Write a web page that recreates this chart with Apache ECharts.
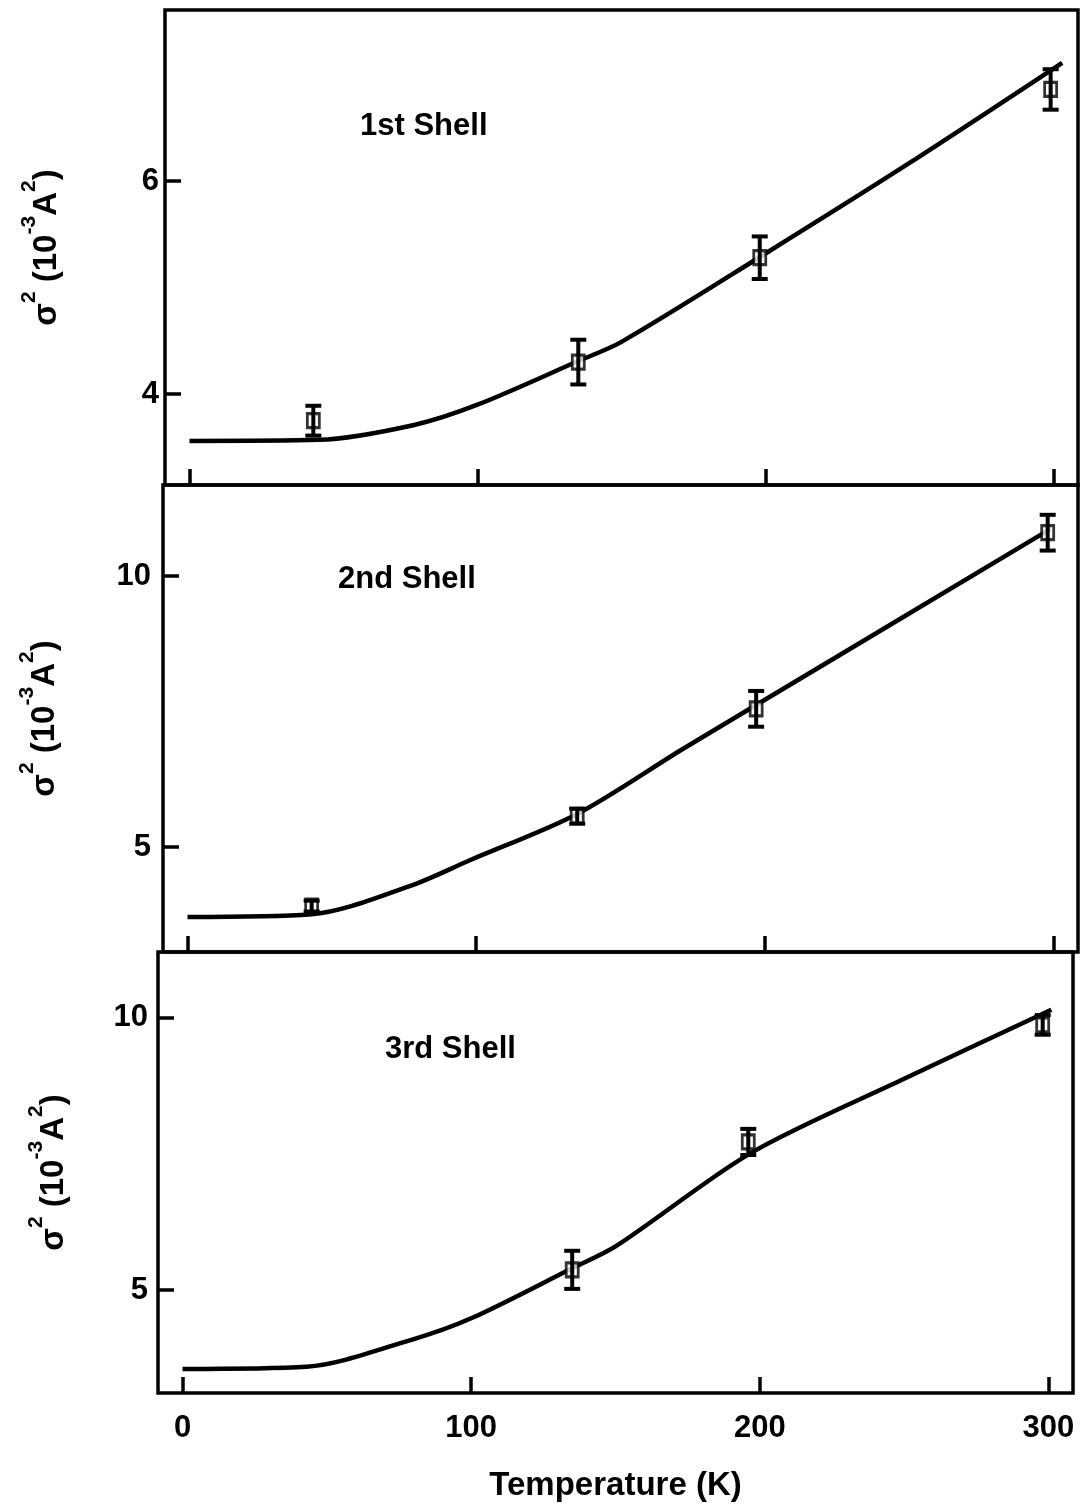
<!DOCTYPE html>
<html>
<head>
<meta charset="utf-8">
<script src="https://cdn.jsdelivr.net/npm/echarts@6/dist/echarts.min.js"></script>
<style>
  html, body { margin: 0; padding: 0; background: #fff; }
  #chart { width: 1082px; height: 1509px; }
</style>
</head>
<body>
<div id="chart"></div>
<script>
// shared temperature ticks (K)
const tempTicks = [0, 100, 200, 300];

// 1st shell
const shell1Temps = [43, 135, 198, 299];
const shell1Vals = [3.75, 4.30, 5.28, 6.86];
const shell1Errs = [0.14, 0.21, 0.20, 0.19];
const shell1CurveT = [0, 45, 78, 100, 135, 150, 200, 250, 303];
const shell1CurveV = [3.56, 3.57, 3.71, 3.90, 4.31, 4.49, 5.32, 6.17, 7.11];
const shell1Ticks = [4, 6];

// 2nd shell
const shell2Temps = [43, 135, 197, 298];
const shell2Vals = [3.91, 5.57, 7.55, 10.80];
const shell2Errs = [0.10, 0.14, 0.33, 0.33];
const shell2CurveT = [0, 43, 77, 98, 135, 171, 197, 299];
const shell2CurveV = [3.71, 3.76, 4.28, 4.76, 5.61, 6.79, 7.62, 10.87];
const shell2Ticks = [5, 10];

// 3rd shell
const shell3Temps = [135, 196, 298];
const shell3Vals = [5.37, 7.72, 9.87];
const shell3Errs = [0.35, 0.24, 0.18];
const shell3CurveT = [0, 43, 79, 100, 135, 150, 197, 250, 301];
const shell3CurveV = [3.55, 3.59, 4.08, 4.48, 5.40, 5.80, 7.52, 8.88, 10.15];
const shell3Ticks = [5, 10];

const shellNames = ['1st Shell', '2nd Shell', '3rd Shell'];

const FONT = '"Liberation Sans", Arial, Helvetica, sans-serif';

const grids = [
  { left: 165, top: 10, width: 913, height: 475 },
  { left: 163, top: 485, width: 915, height: 467 },
  { left: 158, top: 952, width: 915, height: 441 }
];
const yRanges = [
  [3.146, 7.606],
  [3.063, 11.68],
  [3.107, 11.21]
];
const yTicks = [shell1Ticks, shell2Ticks, shell3Ticks];

function zip(a, b, c) {
  return a.map((v, i) => (c ? [v, b[i], c[i]] : [v, b[i]]));
}

const yName = '{s|σ}{u|2}{s| (10}{u|-3}{s|A}{u|2}{s|)}';

function renderErr(params, api) {
  const x = api.value(0);
  const y = api.value(1);
  const e = api.value(2);
  const hi = api.coord([x, y + e]);
  const lo = api.coord([x, y - e]);
  const cap = 8;
  const style = { stroke: '#000', lineWidth: 4 };
  return {
    type: 'group',
    children: [
      { type: 'line', shape: { x1: hi[0], y1: hi[1], x2: lo[0], y2: lo[1] }, style },
      { type: 'line', shape: { x1: hi[0] - cap, y1: hi[1], x2: hi[0] + cap, y2: hi[1] }, style },
      { type: 'line', shape: { x1: lo[0] - cap, y1: lo[1], x2: lo[0] + cap, y2: lo[1] }, style }
    ]
  };
}

const pts = [
  zip(shell1Temps, shell1Vals, shell1Errs),
  zip(shell2Temps, shell2Vals, shell2Errs),
  zip(shell3Temps, shell3Vals, shell3Errs)
];
const curves = [
  zip(shell1CurveT, shell1CurveV),
  zip(shell2CurveT, shell2CurveV),
  zip(shell3CurveT, shell3CurveV)
];

const option = {
  backgroundColor: '#fff',
  animation: false,
  textStyle: { fontFamily: FONT, color: '#000' },
  grid: grids.map(g => Object.assign({
    show: true,
    borderColor: '#000',
    borderWidth: 3.5,
    backgroundColor: 'transparent',
    outerBoundsMode: 'none'
  }, g)),
  title: [
    { text: shellNames[0], left: 360, top: 111 },
    { text: shellNames[1], left: 338, top: 564 },
    { text: shellNames[2], left: 385, top: 1034 }
  ].map(t => Object.assign({
    textStyle: { fontFamily: FONT, fontSize: 31, fontWeight: 'bold', color: '#000' },
    padding: 0
  }, t)),
  xAxis: [0, 1, 2].map(i => ({
    type: 'value',
    gridIndex: i,
    min: -8.5,
    max: 308.5,
    axisLine: { show: false, onZero: false },
    splitLine: { show: false },
    axisTick: {
      show: true,
      inside: true,
      length: 16,
      customValues: tempTicks,
      lineStyle: { color: '#000', width: 3.5 }
    },
    axisLabel: {
      show: i === 2,
      customValues: tempTicks,
      margin: 20,
      fontFamily: FONT,
      fontSize: 31,
      fontWeight: 'bold',
      color: '#000'
    },
    name: i === 2 ? 'Temperature (K)' : '',
    nameLocation: 'middle',
    nameGap: 76,
    nameTextStyle: { fontFamily: FONT, fontSize: 33, fontWeight: 'bold', color: '#000' }
  })),
  yAxis: [0, 1, 2].map(i => ({
    type: 'value',
    gridIndex: i,
    min: yRanges[i][0],
    max: yRanges[i][1],
    axisLine: { show: false, onZero: false },
    splitLine: { show: false },
    axisTick: {
      show: true,
      inside: true,
      length: 16,
      customValues: yTicks[i],
      lineStyle: { color: '#000', width: 3.5 }
    },
    axisLabel: {
      customValues: yTicks[i],
      margin: [6, 12, 10][i],
      fontFamily: FONT,
      fontSize: 31,
      fontWeight: 'bold',
      color: '#000'
    },
    name: yName,
    nameLocation: 'middle',
    nameGap: [102, 102, 88][i],
    nameRotate: 90,
    nameTextStyle: {
      fontFamily: FONT,
      fontSize: 33,
      fontWeight: 'bold',
      color: '#000',
      rich: {
        s: { fontFamily: FONT, fontSize: 33, fontWeight: 'bold', lineHeight: 44, verticalAlign: 'bottom', color: '#000' },
        u: { fontFamily: FONT, fontSize: 21, fontWeight: 'bold', lineHeight: 44, verticalAlign: 'top', color: '#000' }
      }
    }
  })),
  series: [].concat(
    [0, 1, 2].map(i => ({
      type: 'line',
      xAxisIndex: i,
      yAxisIndex: i,
      data: curves[i],
      showSymbol: false,
      smooth: 0.3,
      lineStyle: { color: '#000', width: 4.5 },
      z: 2
    })),
    [0, 1, 2].map(i => ({
      type: 'scatter',
      xAxisIndex: i,
      yAxisIndex: i,
      data: pts[i].map(p => [p[0], p[1]]),
      symbol: 'rect',
      symbolSize: [12, 14],
      itemStyle: { color: '#fff', borderColor: '#000', borderWidth: 3 },
      z: 3
    })),
    [0, 1, 2].map(i => ({
      type: 'custom',
      xAxisIndex: i,
      yAxisIndex: i,
      data: pts[i],
      renderItem: renderErr,
      z: 4
    }))
  )
};

const chart = echarts.init(document.getElementById('chart'), null, { renderer: 'canvas' });
chart.setOption(option);
</script>
</body>
</html>
